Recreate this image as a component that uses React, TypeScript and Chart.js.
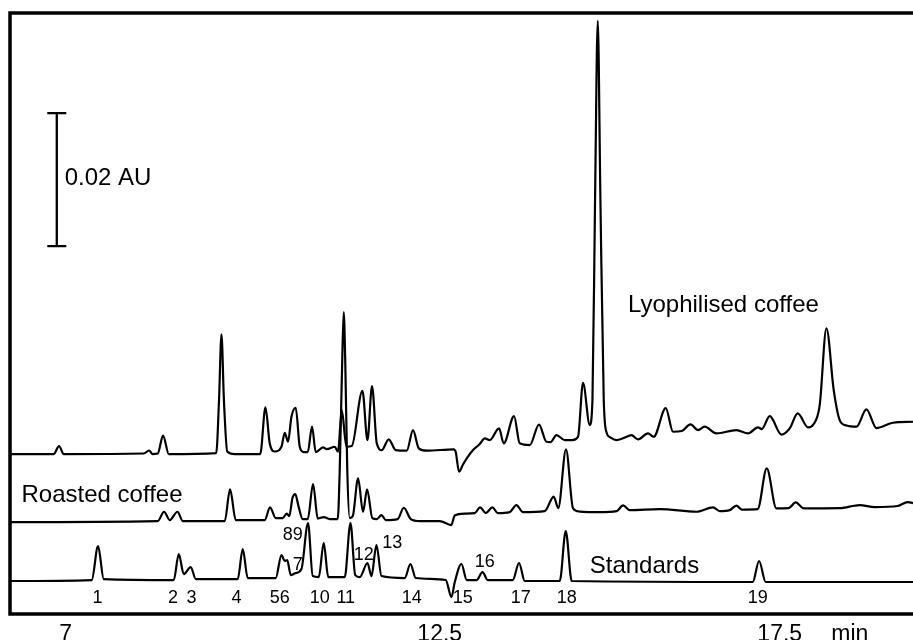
import { useEffect, useRef } from 'react';
import { Chart, registerables } from 'chart.js';

Chart.register(...registerables);

const FONT = "'Liberation Sans', Arial, Helvetica, sans-serif";

// Retention time (min) and absorbance (mAU, relative to each trace's own baseline)
const standardsTrace: [number, number][] = [
  [6.18, -0.15], [7.382, 0], [7.475, 5.11], [7.559, 0.15], [8.588, 0], [8.662, 3.91], [8.735, 0.9],
  [8.838, 1.95], [8.912, 0.15], [9.529, 0.15], [9.603, 4.66], [9.676, 0.3], [10.088, 0.3],
  [10.172, 3.76], [10.221, 2.86], [10.257, 3.0], [10.309, 0.75], [10.382, 1.05], [10.466, 1.65],
  [10.563, 8.57], [10.632, 0.6], [10.721, 0.45], [10.794, 5.56], [10.86, 0.45], [11.103, 0.45],
  [11.187, 8.57], [11.257, 0.75], [11.324, 0.45], [11.437, 2.56], [11.496, 0.6], [11.569, 5.26],
  [11.643, 0.6], [11.985, 0.3], [12.069, 2.41], [12.147, 0.3], [12.588, 0], [12.672, -2.56],
  [12.721, -0.3], [12.819, 2.41], [12.897, 0], [13.044, 0], [13.128, 1.2], [13.206, 0], [13.574, 0],
  [13.666, 2.56], [13.75, -0.15], [14.265, -0.15], [14.353, 7.37], [14.441, -0.15], [17.103, -0.3],
  [17.196, 2.86], [17.294, -0.3], [19.46, -0.3],
];

const roastedTrace: [number, number][] = [
  [6.18, -0.15], [8.353, 0], [8.446, 1.4], [8.529, 0.15], [8.643, 1.4], [8.721, 0], [9.338, 0],
  [9.416, 4.77], [9.5, 0.15], [9.926, 0.15], [10.004, 2.06], [10.088, 0.45], [10.191, 0.45],
  [10.25, 1.13], [10.287, 0.75], [10.334, 3.46], [10.375, 4.06], [10.426, 2.1], [10.485, 0.3],
  [10.559, 0.3], [10.637, 5.56], [10.706, 0.38], [10.794, 0.6], [10.882, 0.3], [11.0, 0.3],
  [11.029, 7.67], [11.066, 24.21], [11.088, 31.43], [11.11, 24.21], [11.14, 7.67], [11.176, 0.45],
  [11.221, 0.75], [11.299, 6.42], [11.372, 1.4], [11.431, 4.77], [11.51, 0.41], [11.574, 0.3],
  [11.643, 0.9], [11.706, 0.15], [11.882, 0.3], [11.971, 2.0], [12.074, 0.3], [12.206, 0], [12.5, 0],
  [12.669, -0.6], [12.721, 0.83], [12.868, 1.13], [13.015, 1.2], [13.093, 2.06], [13.176, 1.2],
  [13.275, 2.06], [13.353, 1.2], [13.529, 1.35], [13.628, 2.41], [13.721, 1.35], [14.044, 1.5],
  [14.176, 3.68], [14.243, 1.95], [14.357, 10.78], [14.46, 1.91], [14.559, 1.43], [14.853, 1.35],
  [15.103, 1.5], [15.196, 2.36], [15.294, 1.65], [15.735, 1.8], [16.279, 1.4], [16.519, 2.06],
  [16.618, 1.5], [16.765, 1.65], [16.863, 2.33], [16.941, 1.73], [17.176, 1.8], [17.309, 7.92],
  [17.451, 1.91], [17.632, 1.95], [17.735, 2.81], [17.853, 1.91], [18.382, 1.95], [18.676, 2.41],
  [18.897, 2.1], [19.235, 2.26], [19.382, 2.86], [19.46, 2.7],
];

const lyophilisedTrace: [number, number][] = [
  [6.18, 0], [6.824, 0], [6.901, 1.2], [6.971, 0], [8.147, 0.08], [8.225, 0.53], [8.279, 0],
  [8.353, 0.08], [8.431, 2.78], [8.515, 0], [9.213, 0.15], [9.254, 8.12], [9.29, 18.0], [9.326, 8.12],
  [9.375, 0.38], [9.485, 0], [9.86, 0], [9.937, 7.02], [10.0, 1.58], [10.074, 0.38], [10.172, 1.1],
  [10.221, 3.2], [10.269, 1.85], [10.319, 5.61], [10.382, 6.96], [10.441, 1.1], [10.5, 0.3],
  [10.559, 0.3], [10.622, 4.11], [10.676, 0.3], [10.784, 1.0], [10.838, 0.75], [10.956, 1.1],
  [11.004, 0.35], [11.059, 6.62], [11.128, 1.1], [11.206, 1.2], [11.363, 9.52], [11.437, 2.1],
  [11.504, 10.23], [11.574, 1.61], [11.647, 0.6], [11.75, 2.21], [11.853, 0.6], [12.015, 0.5],
  [12.107, 3.61], [12.191, 0.86], [12.309, 0.5], [12.706, 0.71], [12.735, 0.3], [12.784, -2.66],
  [12.838, -1.65], [12.897, -0.65], [12.99, 0.6], [13.088, 1.5], [13.162, 2.36], [13.235, 2.1],
  [13.372, 3.86], [13.441, 1.61], [13.593, 5.71], [13.676, 1.61], [13.824, 1.35], [13.96, 4.44],
  [14.069, 1.85], [14.132, 1.8], [14.216, 2.86], [14.338, 2.1], [14.45, 2.1], [14.534, 2.6],
  [14.607, 10.72], [14.706, 4.36], [14.746, 8.12], [14.784, 38.2], [14.824, 65.16], [14.863, 38.2],
  [14.912, 8.12], [14.956, 3.16], [15.0, 2.56], [15.099, 2.1], [15.206, 2.41], [15.319, 2.86],
  [15.416, 2.21], [15.563, 3.11], [15.647, 2.6], [15.824, 6.92], [15.931, 3.35], [16.059, 3.46],
  [16.187, 4.47], [16.299, 3.61], [16.397, 4.11], [16.569, 3.11], [16.863, 3.61], [17.034, 3.11],
  [17.181, 4.01], [17.235, 3.76], [17.353, 5.71], [17.525, 2.93], [17.647, 3.86], [17.765, 6.12],
  [17.916, 4.01], [18.0, 4.51], [18.088, 7.37], [18.187, 18.9], [18.294, 9.62], [18.382, 5.11],
  [18.481, 4.29], [18.628, 4.11], [18.775, 6.72], [18.922, 3.91], [19.166, 4.71], [19.46, 4.86],
];

// Vertical stacking offsets of the traces (mAU)
const traceOffsets = [5.11, 13.98, 24.06];
const traceNames = ['Standards', 'Roasted coffee', 'Lyophilised coffee'];

// Axis
const xTickValues = [7, 12.5, 17.5];
const xUnitLabel = 'min';
const xUnitPosition = 18.53;
const scaleBarAU = 0.02; // AU

// Peak numbers of the standards
const peakNumbers = ['1', '2', '3', '4', '56', '10', '11', '14', '15', '17', '18', '19'];
const peakNumberTimes = [7.466, 8.578, 8.849, 9.51, 10.147, 10.735, 11.118, 12.088, 12.838, 13.691, 14.368, 17.176];
const upperPeakNumbers = ['89', '7', '12', '13', '16'];
const upperPeakTimes = [10.338, 10.412, 11.382, 11.801, 13.162];
const upperPeakLevels = [11.13, 6.62, 8.12, 9.88, 7.11];

// Placement of annotations (min, mAU)
const X_MIN = 6.18;
const X_MAX = 19.46;
const Y_MIN = 0;
const Y_MAX = 90.4;
const traceLabelPos: [number, number][] = [[14.706, 6.12], [6.349, 16.84], [15.269, 45.41]];
const scaleBarPos: [number, number] = [6.868, 55.34];
const scaleBarLabelPos: [number, number] = [6.985, 64.51];
const peakNumberLevel = 1.7;

const overlay = {
  id: 'overlay',
  afterDatasetsDraw(chart: any) {
    const { ctx, chartArea: a, scales } = chart;
    const x = scales.x;
    const y = scales.y;
    ctx.save();
    ctx.fillStyle = '#000';
    ctx.strokeStyle = '#000';

    // frame
    ctx.lineWidth = 3.5;
    ctx.lineJoin = 'miter';
    ctx.beginPath();
    ctx.moveTo(chart.width + 10, a.top);
    ctx.lineTo(a.left, a.top);
    ctx.lineTo(a.left, a.bottom);
    ctx.lineTo(chart.width + 10, a.bottom);
    ctx.stroke();

    // scale bar
    const bx = x.getPixelForValue(scaleBarPos[0]);
    const by0 = y.getPixelForValue(scaleBarPos[1]);
    const by1 = y.getPixelForValue(scaleBarPos[1] + scaleBarAU * 1000);
    ctx.lineWidth = 2.3;
    ctx.beginPath();
    ctx.moveTo(bx, by0);
    ctx.lineTo(bx, by1);
    ctx.moveTo(bx - 9.5, by0);
    ctx.lineTo(bx + 9.5, by0);
    ctx.moveTo(bx - 9.5, by1);
    ctx.lineTo(bx + 9.5, by1);
    ctx.stroke();

    ctx.textBaseline = 'alphabetic';
    ctx.font = `24px ${FONT}`;
    ctx.textAlign = 'left';
    ctx.fillText(`${scaleBarAU} AU`, x.getPixelForValue(scaleBarLabelPos[0]), y.getPixelForValue(scaleBarLabelPos[1]));
    traceNames.forEach((name, i) => {
      const [t, v] = traceLabelPos[i];
      ctx.fillText(name, x.getPixelForValue(t), y.getPixelForValue(v));
    });

    ctx.font = `18px ${FONT}`;
    ctx.textAlign = 'center';
    peakNumbers.forEach((n, i) => {
      ctx.fillText(n, x.getPixelForValue(peakNumberTimes[i]), y.getPixelForValue(peakNumberLevel));
    });
    upperPeakNumbers.forEach((n, i) => {
      ctx.fillText(n, x.getPixelForValue(upperPeakTimes[i]), y.getPixelForValue(upperPeakLevels[i]));
    });
    ctx.restore();
  },
};

export default function App() {
  const ref = useRef<HTMLCanvasElement>(null);
  useEffect(() => {
    if (!ref.current) return;
    const traces = [standardsTrace, roastedTrace, lyophilisedTrace];
    const chart = new Chart(ref.current, {
      type: 'line',
      data: {
        datasets: traces.map((tr, i) => ({
          label: traceNames[i],
          data: tr.map(([t, v]) => ({ x: t, y: v + traceOffsets[i] })),
          borderColor: '#000',
          borderWidth: 2.2,
          pointRadius: 0,
          fill: false,
          cubicInterpolationMode: 'monotone' as const,
        })),
      },
      options: {
        animation: false,
        responsive: false,
        events: [],
        layout: { padding: { left: 10, top: 13, right: 0, bottom: 0 } },
        plugins: { legend: { display: false }, tooltip: { enabled: false } },
        scales: {
          x: {
            type: 'linear',
            min: X_MIN,
            max: X_MAX,
            grid: { display: false },
            border: { display: false },
            afterBuildTicks: (scale: any) => {
              scale.ticks = [...xTickValues, xUnitPosition].map((v) => ({ value: v }));
            },
            afterFit: (scale: any) => {
              scale.height = 26;
            },
            ticks: {
              autoSkip: false,
              maxRotation: 0,
              color: '#000',
              padding: -1,
              font: { family: FONT, size: 23 },
              callback: (v: any) => (v === xUnitPosition ? xUnitLabel : String(v)),
            },
          },
          y: {
            type: 'linear',
            display: false,
            min: Y_MIN,
            max: Y_MAX,
          },
        },
      },
      plugins: [overlay],
    });
    return () => chart.destroy();
  }, []);
  return (
    <div style={{ position: 'absolute', left: 0, top: 0, width: 913, height: 640, background: '#fff', overflow: 'hidden' }}>
      <canvas ref={ref} width={913} height={640} style={{ display: 'block' }} />
    </div>
  );
}
